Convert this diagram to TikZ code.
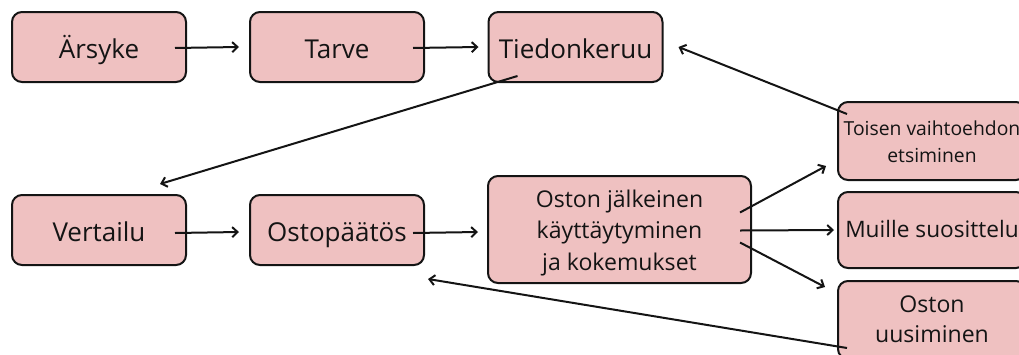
\documentclass[tikz,border=0pt]{standalone}
\usepackage{fontspec}
\setmainfont{Open Sans}
\usetikzlibrary{arrows.meta,calc}
\definecolor{boxpink}{RGB}{239,193,193}
\definecolor{ink}{RGB}{20,20,20}
\begin{document}
\begin{tikzpicture}[x=0.75pt,y=-0.75pt,
  stage/.style={draw=ink, line width=1.5pt, fill=boxpink, rounded corners=7.5pt,
    minimum width=130.5pt, minimum height=52.5pt, inner sep=0pt, align=center,
    text=ink, font=\fontsize{19.5}{23}\selectfont},
  oneline/.style={text height=17pt, text depth=0.5pt},
  arr/.style={draw=ink, line width=1.5pt, -{Straight Barb[length=4pt,width=7.5pt]}}]
\useasboundingbox (0,0) rectangle (1019,354);
\clip (0,0) rectangle (1019,354);
\node[stage, oneline] (ars) at (99,47) {Ärsyke};
\node[stage, oneline] (tarve) at (337,47) {Tarve};
\node[stage, oneline] (tied) at (575.5,47) {Tiedonkeruu};
\node[stage, oneline] (vert) at (99,230) {Vertailu};
\node[stage, oneline] (osto) at (337,230) {Ostopäätös};
\node[stage, minimum width=197.25pt, minimum height=80.25pt,
  text height=61.25pt, text depth=0.5pt,
  font=\fontsize{17.3}{23.6}\selectfont] (jalk) at (619.5,229.5)
  {Oston jälkeinen\\käyttäytyminen\\ja kokemukset};
\node[stage, minimum width=141pt, minimum height=58.5pt,
  text height=32pt, text depth=0.5pt,
  font=\fontsize{14.5}{20}\selectfont] (tois) at (932,141)
  {Toisen vaihtoehdon\\etsiminen};
\node[stage, minimum width=141pt, minimum height=57pt,
  text height=11pt, text depth=0.5pt,
  font=\fontsize{17}{23}\selectfont] (muil) at (932,230) {Muille suosittelu};
\node[stage, minimum width=141pt, minimum height=58.5pt,
  text height=33.5pt, text depth=0.5pt,
  font=\fontsize{17.3}{22.5}\selectfont] (uusi) at (932,320) {Oston\\uusiminen};
\draw[arr] ($(ars.east)+(-12,1)$) -- ($(tarve.west)+(-10,0)$);
\draw[arr] ($(tarve.east)+(-12,1)$) -- ($(tied.west)+(-9,0)$);
\draw[arr] ($(tied.south)+(-58,-7)$) -- ($(vert.north)+(61,-10)$);
\draw[arr] ($(tois.north west)+(10,13)$) -- ($(tied.east)+(15,0)$);
\draw[arr] ($(vert.east)+(-12,3)$) -- ($(osto.west)+(-10,2)$);
\draw[arr] ($(osto.east)+(-12,3)$) -- ($(jalk.west)+(-9,2.5)$);
\draw[arr] ($(jalk.east)+(-12,-17)$) -- ($(tois.south west)+(-11,-15)$);
\draw[arr] ($(jalk.east)+(-12,1)$) -- ($(muil.west)+(-3,0)$);
\draw[arr] ($(jalk.east)+(-12,13)$) -- ($(uusi.north west)+(-12,7)$);
\draw[arr] ($(uusi.west)+(10,28)$) -- ($(osto.south east)+(3,13)$);
\end{tikzpicture}
\end{document}
